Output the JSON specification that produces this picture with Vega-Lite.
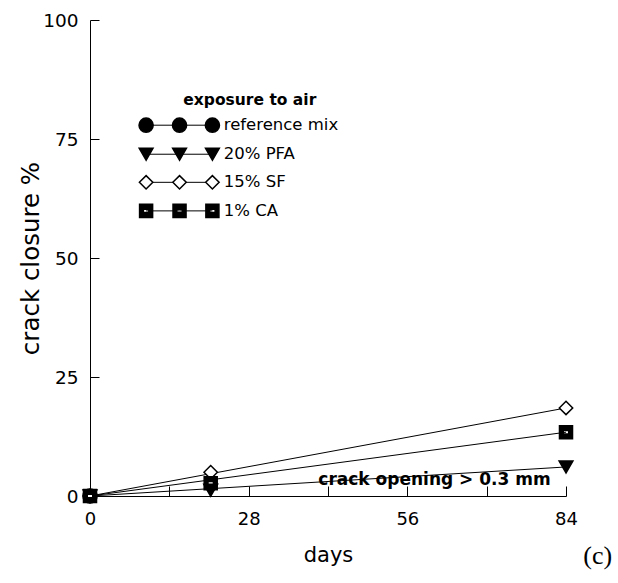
{
  "$schema": "https://vega.github.io/schema/vega-lite/v6.json",
  "width": 476,
  "height": 476,
  "autosize": "none",
  "padding": {"left": 90, "top": 20, "right": 52, "bottom": 87},
  "background": "white",
  "config": {"view": {"stroke": null}, "font": "DejaVu Sans"},
  "datasets": {
    "main": [
      {"series": "reference mix", "day": 0, "closure": 0},
      {"series": "20% PFA", "day": 0, "closure": 0},
      {"series": "20% PFA", "day": 21.3, "closure": 1.2},
      {"series": "20% PFA", "day": 84, "closure": 6.1},
      {"series": "15% SF", "day": 0, "closure": 0},
      {"series": "15% SF", "day": 21.3, "closure": 5.0},
      {"series": "15% SF", "day": 84, "closure": 18.5},
      {"series": "1% CA", "day": 0, "closure": 0},
      {"series": "1% CA", "day": 21.3, "closure": 2.7},
      {"series": "1% CA", "day": 84, "closure": 13.4}
    ],
    "legend": [
      {"series": "reference mix", "lx": 9.9, "ly": 77.9},
      {"series": "reference mix", "lx": 15.8, "ly": 77.9},
      {"series": "reference mix", "lx": 21.6, "ly": 77.9},
      {"series": "20% PFA", "lx": 9.9, "ly": 71.8},
      {"series": "20% PFA", "lx": 15.8, "ly": 71.8},
      {"series": "20% PFA", "lx": 21.6, "ly": 71.8},
      {"series": "15% SF", "lx": 9.9, "ly": 65.9},
      {"series": "15% SF", "lx": 15.8, "ly": 65.9},
      {"series": "15% SF", "lx": 21.6, "ly": 65.9},
      {"series": "1% CA", "lx": 9.9, "ly": 59.9},
      {"series": "1% CA", "lx": 15.8, "ly": 59.9},
      {"series": "1% CA", "lx": 21.6, "ly": 59.9}
    ],
    "labels": [
      {"series": "reference mix", "lx": 23.6, "ly": 77.9},
      {"series": "20% PFA", "lx": 23.6, "ly": 71.8},
      {"series": "15% SF", "lx": 23.6, "ly": 65.9},
      {"series": "1% CA", "lx": 23.6, "ly": 59.9}
    ],
    "notes": [
      {"text": "exposure to air", "nx": 28.2, "ny": 83.2, "kind": "title"},
      {"text": "crack opening > 0.3 mm", "nx": 60.8, "ny": 3.3, "kind": "note"},
      {"text": "(c)", "nx": 89.6, "ny": -12.6, "kind": "panel"}
    ]
  },
  "layer": [
    {
      "data": {"name": "main"},
      "transform": [{"filter": "datum.day != 21.3"}],
      "mark": {"type": "line", "color": "black", "strokeWidth": 1},
      "encoding": {
        "x": {
          "field": "day", "type": "quantitative",
          "scale": {"domain": [0, 84], "nice": false},
          "axis": {
            "values": [0, 14, 28, 42, 56, 70, 84],
            "labelExpr": "datum.value % 28 == 0 ? datum.label : ''",
            "labelFlush": false,
            "tickSize": -10, "tickColor": "black", "domainColor": "black",
            "labelFontSize": 18, "labelColor": "black", "labelPadding": 24,
            "grid": false, "title": "days", "titleFontSize": 21,
            "titleFontWeight": "normal", "titleColor": "black", "titlePadding": 16
          }
        },
        "y": {
          "field": "closure", "type": "quantitative",
          "scale": {"domain": [0, 100], "nice": false},
          "axis": {
            "values": [0, 25, 50, 75, 100],
            "labelFlush": false,
            "tickSize": -9, "tickColor": "black", "domainColor": "black",
            "labelFontSize": 18.5, "labelColor": "black", "labelPadding": 21,
            "grid": false, "title": "crack closure %", "titleFontSize": 24.5,
            "titleFontWeight": "normal", "titleColor": "black", "titlePadding": -1
          }
        },
        "detail": {"field": "series"}
      }
    },
    {
      "data": {"name": "main"},
      "mark": {"type": "point", "filled": true, "stroke": "black", "strokeWidth": 1.5, "opacity": 1},
      "encoding": {
        "x": {"field": "day", "type": "quantitative"},
        "y": {"field": "closure", "type": "quantitative"},
        "shape": {"field": "series", "type": "nominal",
          "scale": {"domain": ["reference mix", "20% PFA", "15% SF", "1% CA"],
            "range": ["circle", "triangle-down", "diamond", "M-1,-1H1V1H-1Z M-0.42,-0.26V0.26H0.42V-0.26Z"]},
          "legend": null},
        "fill": {"field": "series", "type": "nominal",
          "scale": {"domain": ["reference mix", "20% PFA", "15% SF", "1% CA"],
            "range": ["black", "black", "white", "black"]},
          "legend": null},
        "size": {"field": "series", "type": "nominal",
          "scale": {"domain": ["reference mix", "20% PFA", "15% SF", "1% CA"],
            "range": [200, 170, 110, 150]},
          "legend": null}
      }
    },
    {
      "data": {"name": "legend"},
      "mark": {"type": "line", "color": "black", "strokeWidth": 1},
      "encoding": {
        "x": {"field": "lx", "type": "quantitative"},
        "y": {"field": "ly", "type": "quantitative"},
        "detail": {"field": "series"}
      }
    },
    {
      "data": {"name": "legend"},
      "mark": {"type": "point", "filled": true, "stroke": "black", "strokeWidth": 1.5, "opacity": 1},
      "encoding": {
        "x": {"field": "lx", "type": "quantitative"},
        "y": {"field": "ly", "type": "quantitative"},
        "shape": {"field": "series", "type": "nominal", "legend": null},
        "fill": {"field": "series", "type": "nominal", "legend": null},
        "size": {"field": "series", "type": "nominal", "legend": null}
      }
    },
    {
      "data": {"name": "labels"},
      "mark": {"type": "text", "align": "left", "baseline": "middle", "fontSize": 16.5, "color": "black"},
      "encoding": {
        "x": {"field": "lx", "type": "quantitative"},
        "y": {"field": "ly", "type": "quantitative"},
        "text": {"field": "series"}
      }
    },
    {
      "data": {"name": "notes"},
      "transform": [{"filter": "datum.kind == 'title'"}],
      "mark": {"type": "text", "align": "center", "baseline": "middle", "fontSize": 15.5, "fontWeight": "bold", "color": "black"},
      "encoding": {
        "x": {"field": "nx", "type": "quantitative"},
        "y": {"field": "ny", "type": "quantitative"},
        "text": {"field": "text"}
      }
    },
    {
      "data": {"name": "notes"},
      "transform": [{"filter": "datum.kind == 'note'"}],
      "mark": {"type": "text", "align": "center", "baseline": "middle", "fontSize": 17, "fontWeight": "bold", "color": "black"},
      "encoding": {
        "x": {"field": "nx", "type": "quantitative"},
        "y": {"field": "ny", "type": "quantitative"},
        "text": {"field": "text"}
      }
    },
    {
      "data": {"name": "notes"},
      "transform": [{"filter": "datum.kind == 'panel'"}],
      "mark": {"type": "text", "align": "center", "baseline": "middle", "fontSize": 26, "font": "Liberation Serif", "color": "black", "clip": false},
      "encoding": {
        "x": {"field": "nx", "type": "quantitative"},
        "y": {"field": "ny", "type": "quantitative"},
        "text": {"field": "text"}
      }
    }
  ]
}
